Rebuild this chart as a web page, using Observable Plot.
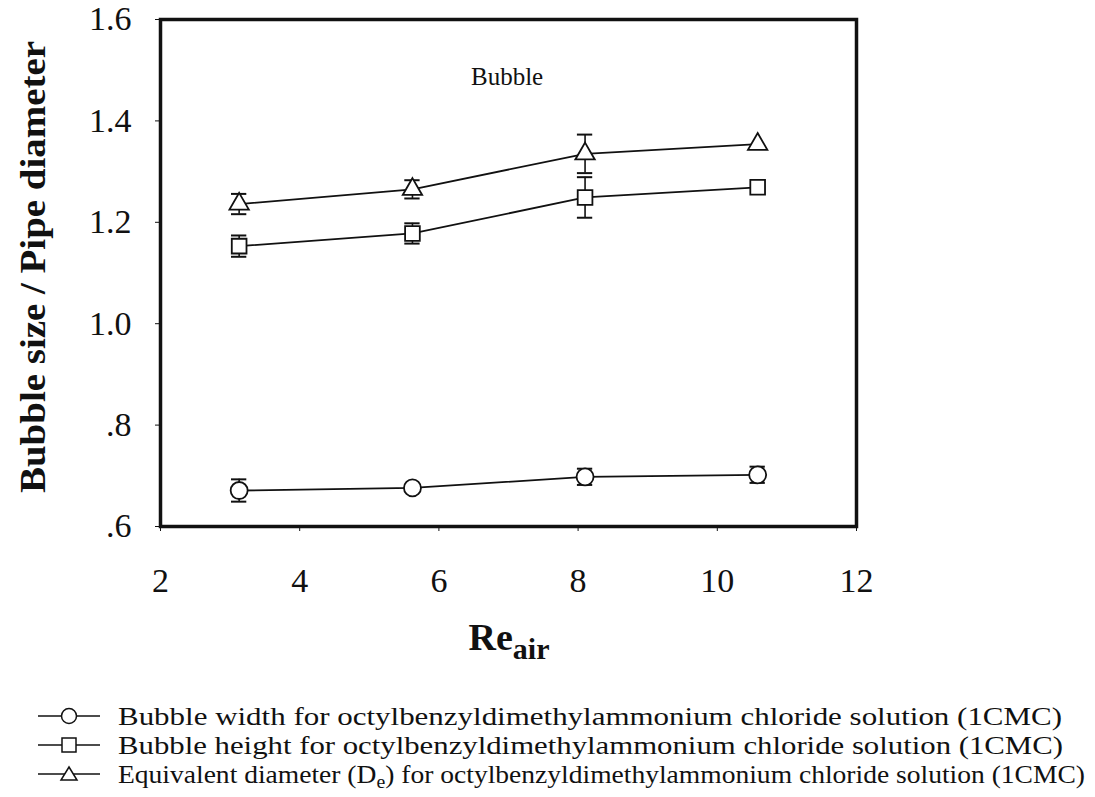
<!DOCTYPE html>
<html><head><meta charset="utf-8">
<script src="https://cdn.jsdelivr.net/npm/d3@7"></script>
<script src="https://cdn.jsdelivr.net/npm/@observablehq/plot@0.6"></script>
<style>
body{margin:0;background:#fff;font-family:"Liberation Serif","Times New Roman",serif;color:#111;}
#chart{width:1095px;height:700px;}
#legend{display:block;}
</style></head><body>
<div id="chart"></div>
<svg id="legend" width="1095" height="97"></svg>
<script>
const reAir = [3.13, 5.62, 8.10, 10.58];
const widthVals = [0.671, 0.676, 0.698, 0.702];
const widthErr = [0.022, 0, 0.016, 0.016];
const heightVals = [1.153, 1.178, 1.249, 1.269];
const heightErr = [0.021, 0.02, 0.04, 0];
const deVals = [1.236, 1.265, 1.335, 1.354];
const deErr = [0.02, 0.018, 0.038, 0];
const seriesNames = [
  ["Bubble width for octylbenzyldimethylammonium chloride solution (1CMC)"],
  ["Bubble height for octylbenzyldimethylammonium chloride solution (1CMC)"],
  ["Equivalent diameter (D", "e", ") for octylbenzyldimethylammonium chloride solution (1CMC)"]
];
const seriesSymbols = ["circle", "square", "triangle"];
const xTicks = [2, 4, 6, 8, 10, 12];
const yTicks = [0.6, 0.8, 1.0, 1.2, 1.4, 1.6];
const yTickLabels = [".6", ".8", "1.0", "1.2", "1.4", "1.6"];

const seriesVals = [widthVals, heightVals, deVals];
const seriesErr = [widthErr, heightErr, deErr];
const rows = [];
seriesVals.forEach((vals, s) => vals.forEach((v, i) => rows.push({
  s, sym: seriesSymbols[s], x: reAir[i], y: v, err: seriesErr[s][i]
})));
const errRows = rows.filter(d => d.err > 0);
const capHalf = 0.11;

const plot = Plot.plot({
  width: 1095, height: 700,
  marginLeft: 160, marginRight: 239, marginTop: 19, marginBottom: 174,
  style: {fontFamily: '"Liberation Serif","Times New Roman",serif', fontSize: "34px", color: "#111", background: "transparent"},
  x: {domain: [2, 12]},
  y: {domain: [0.6, 1.6]},
  symbol: {domain: seriesSymbols, range: seriesSymbols},
  marks: [
    Plot.axisX({ticks: xTicks, tickSize: 5, tickPadding: 36, label: null, tickFormat: d => String(d)}),
    Plot.axisY({ticks: yTicks, tickSize: 5, tickPadding: 24, label: null,
      tickFormat: d => yTickLabels[yTicks.findIndex(t => Math.abs(t - d) < 1e-9)]}),
    Plot.ruleX(errRows, {x: "x", y1: d => d.y - d.err, y2: d => d.y + d.err, stroke: "#111", strokeWidth: 1.6}),
    Plot.ruleY(errRows, {y: d => d.y + d.err, x1: d => d.x - capHalf, x2: d => d.x + capHalf, stroke: "#111", strokeWidth: 2}),
    Plot.ruleY(errRows, {y: d => d.y - d.err, x1: d => d.x - capHalf, x2: d => d.x + capHalf, stroke: "#111", strokeWidth: 2}),
    Plot.line(rows, {x: "x", y: "y", z: "s", stroke: "#111", strokeWidth: 1.8}),
    Plot.dot(rows.filter(d => d.sym === "circle"), {x: "x", y: "y", symbol: "sym", r: 8.5, fill: "white", stroke: "#111", strokeWidth: 1.8}),
    Plot.dot(rows.filter(d => d.sym === "square"), {x: "x", y: "y", symbol: "sym", r: 8.3, fill: "white", stroke: "#111", strokeWidth: 1.8}),
    Plot.dot(rows.filter(d => d.sym === "triangle"), {x: "x", y: "y", symbol: "sym", r: 7.2, fill: "white", stroke: "#111", strokeWidth: 1.8}),
    Plot.text(["Bubble"], {x: 6.98, y: 1.487, text: d => d, fontSize: 25}),
    Plot.frame({stroke: "#111", strokeWidth: 3.5})
  ]
});
document.getElementById("chart").appendChild(plot);

const svg = d3.select(plot);
svg.append("text")
  .attr("transform", `translate(33,267) rotate(-90)`)
  .attr("text-anchor", "middle").attr("dominant-baseline", "central")
  .attr("font-weight", "bold").attr("font-size", 35).attr("fill", "#111")
  .attr("textLength", 452).attr("lengthAdjust", "spacingAndGlyphs")
  .text("Bubble size / Pipe diameter");
const xl = svg.append("text")
  .attr("x", 509).attr("y", 650)
  .attr("text-anchor", "middle").attr("font-weight", "bold").attr("font-size", 38).attr("fill", "#111");
xl.append("tspan").text("Re");
xl.append("tspan").attr("dy", 9).attr("font-size", 30).text("air");

const leg = d3.select("#legend");
const rowY = [16, 45, 74];
const rowLen = [944, 945, 967];
seriesNames.forEach((parts, i) => {
  const g = leg.append("g").attr("transform", `translate(0,${rowY[i]})`);
  g.append("line").attr("x1", 38).attr("x2", 100).attr("y1", 0).attr("y2", 0).attr("stroke", "#111").attr("stroke-width", 1.5);
  if (seriesSymbols[i] === "circle") g.append("circle").attr("cx", 69).attr("cy", 0).attr("r", 7.5).attr("fill", "white").attr("stroke", "#111").attr("stroke-width", 1.5);
  if (seriesSymbols[i] === "square") g.append("rect").attr("x", 62).attr("y", -7).attr("width", 14).attr("height", 14).attr("fill", "white").attr("stroke", "#111").attr("stroke-width", 1.5);
  if (seriesSymbols[i] === "triangle") g.append("path").attr("d", "M69,-7 L77,6 L61,6 Z").attr("fill", "white").attr("stroke", "#111").attr("stroke-width", 1.5);
  const t = g.append("text").attr("x", 118).attr("y", 0).attr("dy", "0.35em")
    .attr("font-size", 25).attr("fill", "#111")
    .attr("textLength", rowLen[i]).attr("lengthAdjust", "spacingAndGlyphs");
  if (parts.length === 1) t.text(parts[0]);
  else {
    t.append("tspan").text(parts[0]);
    t.append("tspan").attr("dy", 5).attr("font-size", 18).text(parts[1]);
    t.append("tspan").attr("dy", -5).text(parts[2]);
  }
});
</script>
</body></html>
